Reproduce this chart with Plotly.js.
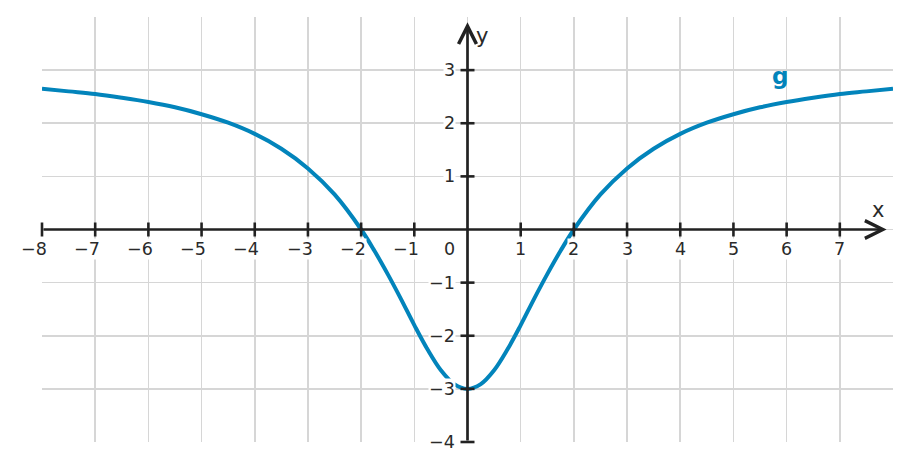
<!DOCTYPE html>
<html>
<head>
<meta charset="utf-8">
<script src="https://cdn.plot.ly/plotly-3.0.1.min.js"></script>
<style>
  html, body { margin: 0; padding: 0; background: #ffffff; }
  #chart { width: 911px; height: 471px; }
</style>
</head>
<body>
<div id="chart"></div>
<script>
// ---- data ----
const xValues = [-8, -7.5, -7, -6.5, -6, -5.5, -5, -4.5, -4, -3.5, -3, -2.5, -2, -1.75, -1.5, -1.25, -1, -0.75, -0.5, -0.25,
                 0, 0.25, 0.5, 0.75, 1, 1.25, 1.5, 1.75, 2, 2.5, 3, 3.5, 4, 4.5, 5, 5.5, 6, 6.5, 7, 7.5, 8];
const gValues = [2.65, 2.60, 2.55, 2.48, 2.40, 2.30, 2.17, 2.01, 1.80, 1.52, 1.15, 0.66, 0, -0.40, -0.84, -1.31, -1.80, -2.26, -2.65, -2.91,
                 -3.00, -2.91, -2.65, -2.26, -1.80, -1.31, -0.84, -0.40, 0, 0.66, 1.15, 1.52, 1.80, 2.01, 2.17, 2.30, 2.40, 2.48, 2.55, 2.60, 2.65];
const seriesName = 'g';
const xTickVals = [-8, -7, -6, -5, -4, -3, -2, -1, 0, 1, 2, 3, 4, 5, 6, 7];
const xTickLabels = ['\u22128', '\u22127', '\u22126', '\u22125', '\u22124', '\u22123', '\u22122', '\u22121', '0', '1', '2', '3', '4', '5', '6', '7'];
const yTickVals = [-4, -3, -2, -1, 0, 1, 2, 3];
const yTickLabels = ['\u22124', '\u22123', '\u22122', '\u22121', '0', '1', '2', '3'];
const xAxisLabel = 'x';
const yAxisLabel = 'y';

// ---- styling ----
const curveColor = '#0284bb';
const axisColor = '#222222';
const textColor = '#2a2a2a';
const gridColor = '#d6d6d6';
const fontFamily = 'DejaVu Sans, sans-serif';

const xTickMarks = xTickVals.filter(v => v !== 0);
const yTickMarks = yTickVals.filter(v => v !== 0);

const traces = [
  {
    x: xValues, y: gValues, type: 'scatter', mode: 'lines', name: seriesName,
    line: { color: curveColor, width: 4, shape: 'spline', smoothing: 1 },
    hoverinfo: 'skip'
  },
  {
    x: xTickMarks, y: xTickMarks.map(() => 0), type: 'scatter', mode: 'markers',
    marker: { symbol: 'line-ns', size: 10, color: axisColor, line: { color: axisColor, width: 2.6 } },
    cliponaxis: false, hoverinfo: 'skip'
  },
  {
    x: yTickMarks.map(() => 0), y: yTickMarks, type: 'scatter', mode: 'markers',
    marker: { symbol: 'line-ew', size: 10, color: axisColor, line: { color: axisColor, width: 2.6 } },
    cliponaxis: false, hoverinfo: 'skip'
  }
];

const annotations = [];
// axis lines with arrow heads
annotations.push({
  x: 7.88, y: 0, ax: -8, ay: 0, xref: 'x', yref: 'y', axref: 'x', ayref: 'y',
  text: '', showarrow: true, arrowhead: 5, arrowwidth: 2.7, arrowsize: 1.3, arrowcolor: axisColor, standoff: 0
});
annotations.push({
  x: 0, y: 3.9, ax: 0, ay: -4, xref: 'x', yref: 'y', axref: 'x', ayref: 'y',
  text: '', showarrow: true, arrowhead: 5, arrowwidth: 2.7, arrowsize: 1.3, arrowcolor: axisColor, standoff: 0
});
// x tick labels
xTickVals.forEach((v, i) => {
  if (v === 0) {
    annotations.push({
      x: v, y: 0, xref: 'x', yref: 'y', text: xTickLabels[i], showarrow: false,
      xanchor: 'right', xshift: -12, yanchor: 'middle', yshift: -19.5,
      bgcolor: '#ffffff', borderpad: 0, font: { family: fontFamily, size: 17.5, color: textColor }
    });
  } else {
    annotations.push({
      x: v, y: 0, xref: 'x', yref: 'y', text: xTickLabels[i], showarrow: false,
      xanchor: v < 0 ? 'right' : 'center', xshift: v < 0 ? 5.6 : 0, yanchor: 'middle', yshift: -19.5,
      bgcolor: '#ffffff', borderpad: 0, font: { family: fontFamily, size: 17.5, color: textColor }
    });
  }
});
// y tick labels
yTickVals.forEach((v, i) => {
  if (v === 0) return;
  annotations.push({
    x: 0, y: v, xref: 'x', yref: 'y', text: yTickLabels[i], showarrow: false,
    xanchor: 'right', xshift: -11.5, yanchor: 'middle',
    bgcolor: '#ffffff', borderpad: 0, font: { family: fontFamily, size: 17.5, color: textColor }
  });
});
// axis names
annotations.push({
  x: 7.72, y: 0.36, xref: 'x', yref: 'y', text: xAxisLabel, showarrow: false,
  xanchor: 'center', yanchor: 'middle', font: { family: fontFamily, size: 21, color: textColor }
});
annotations.push({
  x: 0.27, y: 3.65, xref: 'x', yref: 'y', text: yAxisLabel, showarrow: false,
  xanchor: 'center', yanchor: 'middle', font: { family: fontFamily, size: 21, color: textColor }
});
// curve label
annotations.push({
  x: 5.88, y: 2.89, xref: 'x', yref: 'y', text: '<b>' + seriesName + '</b>', showarrow: false,
  xanchor: 'center', yanchor: 'middle', font: { family: fontFamily, size: 23, color: curveColor }
});

const layout = {
  width: 911, height: 471,
  margin: { l: 42, r: 18, t: 17, b: 29, pad: 0 },
  paper_bgcolor: '#ffffff', plot_bgcolor: '#ffffff',
  showlegend: false, hovermode: false,
  font: { family: fontFamily, color: textColor },
  xaxis: {
    range: [-8, 8], tickmode: 'array', tickvals: xTickVals, showticklabels: false, ticks: '',
    showgrid: true, gridcolor: gridColor, gridwidth: 1.6, zeroline: false, showline: false, fixedrange: true
  },
  yaxis: {
    range: [-4, 4], tickmode: 'array', tickvals: yTickVals, showticklabels: false, ticks: '',
    showgrid: true, gridcolor: gridColor, gridwidth: 1.6, zeroline: false, showline: false, fixedrange: true
  },
  annotations: annotations
};

Plotly.newPlot('chart', traces, layout, { staticPlot: true, displayModeBar: false });
</script>
</body>
</html>
